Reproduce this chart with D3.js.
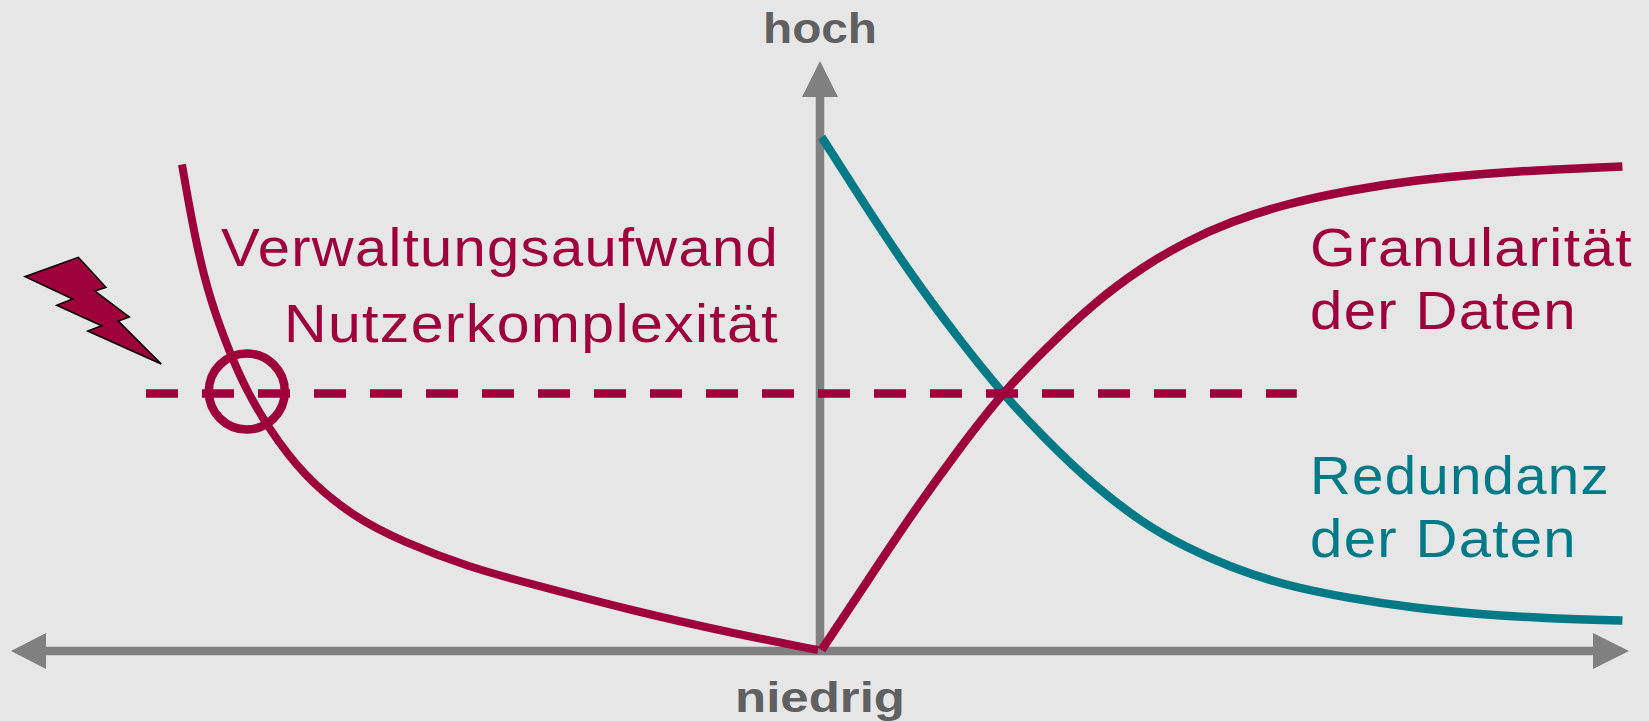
<!DOCTYPE html>
<html>
<head>
<meta charset="utf-8">
<script src="https://cdn.jsdelivr.net/npm/d3@7"></script>
<style>
  html, body { margin: 0; padding: 0; background: #e6e6e6; overflow: hidden; }
  text { font-family: "Liberation Sans", Arial, sans-serif; }
</style>
</head>
<body>
<div id="vis"></div>
<script>
// curve values (x: -100..100, y: 0..100)
const effortX = [-79.75, -78.1, -76.25, -73.75, -71.7, -69.2, -64.6, -58.3, -52.1, -43.75, -36.8, -23.6, -10.5, -0.25];
const effortY = [97.3, 82.2, 70.2, 59.5, 52.2, 45.2, 35, 26.8, 21.8, 16.7, 13.7, 8.1, 3.4, 0.2];

const sharedX = [0.2, 5, 11.25, 17.5, 22.7, 27.9, 34.2, 40.4, 45.8, 51.25, 57.9, 66.25, 74.6, 82.9, 91.25, 100.3];
const granularityY = [0.2, 11.7, 26.9, 40.7, 51.4, 60, 69.6, 76.9, 81.9, 85.8, 89.3, 92.2, 94.2, 95.5, 96.3, 96.9];
const redundancyY = [102.8, 90.7, 75.5, 62.1, 51.7, 42.8, 33.1, 25.5, 20.7, 16.8, 13.2, 10.5, 8.5, 7.3, 6.5, 6.1];

const thresholdY = 51.5;
const thresholdX = [-84.25, 59.6];
const markerX = -71.65, markerY = 51.9;

const leftLabels = ["Verwaltungsaufwand", "Nutzerkomplexität"];
const granularityLabels = ["Granularität", "der Daten"];
const redundancyLabels = ["Redundanz", "der Daten"];

const width = 1649, height = 721;
const red = "#9e003c", teal = "#007a87", grey = "#808080", labelGrey = "#606060";

const svg = d3.select("#vis")
  .append("svg")
  .attr("width", width)
  .attr("height", height)
  .style("display", "block")
  .style("background-color", "#e6e6e6");

const x = d3.scaleLinear().domain([-100, 100]).range([20, 1620]);
const y = d3.scaleLinear().domain([0, 100]).range([651, 151]);

const line = d3.line().x(d => x(d[0])).y(d => y(d[1])).curve(d3.curveBasis);

// axes
const axisY = y(0), axisX = x(0);
svg.append("line")
  .attr("x1", 40).attr("x2", 1600)
  .attr("y1", axisY).attr("y2", axisY)
  .attr("stroke", grey).attr("stroke-width", 8.5);
svg.append("line")
  .attr("x1", axisX).attr("x2", axisX)
  .attr("y1", axisY).attr("y2", 90)
  .attr("stroke", grey).attr("stroke-width", 8.5);

svg.append("path")
  .attr("d", `M${axisX},61 L${axisX + 18},97 L${axisX - 18},97 Z`)
  .attr("fill", grey);
svg.append("path")
  .attr("d", `M11,${axisY} L46,${axisY - 18} L46,${axisY + 18} Z`)
  .attr("fill", grey);
svg.append("path")
  .attr("d", `M1629,${axisY} L1593,${axisY - 18} L1593,${axisY + 18} Z`)
  .attr("fill", grey);

// curves
svg.append("path")
  .attr("d", line(d3.zip(sharedX, redundancyY)))
  .attr("fill", "none").attr("stroke", teal).attr("stroke-width", 8.5);
svg.append("path")
  .attr("d", line(d3.zip(sharedX, granularityY)))
  .attr("fill", "none").attr("stroke", red).attr("stroke-width", 8.5);
svg.append("path")
  .attr("d", line(d3.zip(effortX, effortY)))
  .attr("fill", "none").attr("stroke", red).attr("stroke-width", 8);

// dashed threshold
svg.append("line")
  .attr("x1", x(thresholdX[0])).attr("x2", x(thresholdX[1]))
  .attr("y1", y(thresholdY)).attr("y2", y(thresholdY))
  .attr("stroke", red).attr("stroke-width", 8.5)
  .attr("stroke-dasharray", "32 24");

// circle on the threshold
svg.append("circle")
  .attr("cx", x(markerX)).attr("cy", y(markerY))
  .attr("r", 38)
  .attr("fill", "none").attr("stroke", red).attr("stroke-width", 8.5);

// lightning bolt
svg.append("path")
  .attr("d", "M78.3,257.3 L106,287.3 L95,291 L129.3,317 L118.3,321 L161.3,364 L87.7,331 L101.7,325.7 L56.7,305.3 L72.7,299 L25,276.7 Z")
  .attr("fill", red).attr("stroke", "#000").attr("stroke-width", 1.5)
  .attr("stroke-linejoin", "miter");

// labels, stretched to the widths in the picture
function addText(str, tx, ty, color, anchor, size, weight, len, spacing) {
  svg.append("text")
    .attr("x", tx).attr("y", ty)
    .attr("fill", color)
    .attr("text-anchor", anchor)
    .attr("font-size", size)
    .attr("font-weight", weight)
    .attr("letter-spacing", spacing)
    .attr("textLength", len)
    .attr("lengthAdjust", "spacingAndGlyphs")
    .text(str);
}

addText("hoch", axisX, 43, labelGrey, "middle", 42, "bold", 114, 0);
addText("niedrig", axisX, 712, labelGrey, "middle", 42, "bold", 170, 0);

addText(leftLabels[0], 779, 266, red, "end", 53, "normal", 558, 1.2);
addText(leftLabels[1], 779, 342, red, "end", 53, "normal", 495, 1.2);
addText(granularityLabels[0], 1310, 266, red, "start", 53, "normal", 323, 1.2);
addText(granularityLabels[1], 1310, 329, red, "start", 53, "normal", 267, 1.2);
addText(redundancyLabels[0], 1310, 494, teal, "start", 53, "normal", 300, 1.2);
addText(redundancyLabels[1], 1310, 557, teal, "start", 53, "normal", 267, 1.2);
</script>
</body>
</html>
